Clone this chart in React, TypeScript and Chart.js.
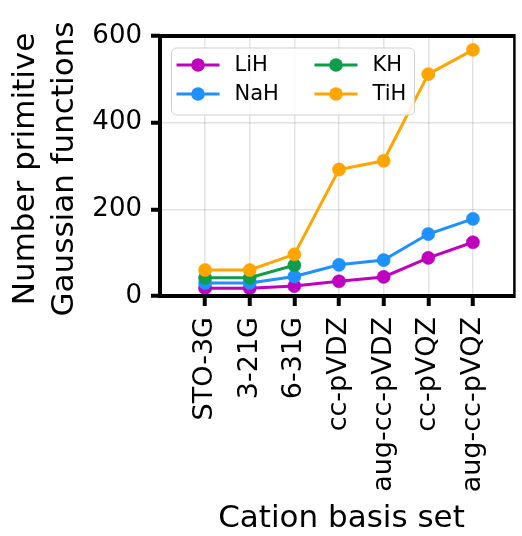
import { useEffect, useRef } from 'react';
import { Chart, registerables } from 'chart.js';

Chart.register(...registerables);

// Basis sets used on the cation (x axis, in order)
const categories = ['STO-3G', '3-21G', '6-31G', 'cc-pVDZ', 'aug-cc-pVDZ', 'cc-pVQZ', 'aug-cc-pVQZ'];

// Number of primitive Gaussian functions per molecule
const lihValues = [18, 18, 23, 34, 44, 88, 124];
const nahValues = [30, 30, 45, 72, 83, 143, 178];
const khValues = [42, 42, 71, null, null, null, null];
const tihValues = [60, 60, 96, 292, 312, 512, 568];

const yTicks = [0, 200, 400, 600];

const FONT = '"DejaVu Sans", sans-serif';

const series = [
  { label: 'LiH', values: lihValues, color: '#bf00bf' },
  { label: 'NaH', values: nahValues, color: '#1e90ff' },
  { label: 'KH', values: khValues, color: '#0f9d4c' },
  { label: 'TiH', values: tihValues, color: '#ffa500' },
];

// Frame, legend and axis titles drawn on top of the plot
const decorations = {
  id: 'decorations',
  afterDatasetsDraw(chart: any) {
    const { ctx, chartArea: a } = chart;
    ctx.save();
    ctx.strokeStyle = '#000';
    ctx.lineWidth = 4;
    ctx.beginPath();
    ctx.moveTo(a.right - 0.5, a.top);
    ctx.lineTo(a.left, a.top);
    ctx.lineTo(a.left, a.bottom);
    ctx.lineTo(a.right - 0.5, a.bottom);
    ctx.stroke();
    ctx.lineWidth = 2.5;
    ctx.beginPath();
    ctx.moveTo(a.right - 0.5, a.top - 2);
    ctx.lineTo(a.right - 0.5, a.bottom + 2);
    ctx.stroke();
    ctx.restore();
  },
  afterDraw(chart: any) {
    const { ctx, chartArea: a } = chart;
    ctx.save();

    // legend box
    const bx = a.left + 11.5, by = a.top + 12, bw = 243, bh = 67, r = 5;
    ctx.beginPath();
    ctx.moveTo(bx + r, by);
    ctx.arcTo(bx + bw, by, bx + bw, by + bh, r);
    ctx.arcTo(bx + bw, by + bh, bx, by + bh, r);
    ctx.arcTo(bx, by + bh, bx, by, r);
    ctx.arcTo(bx, by, bx + bw, by, r);
    ctx.closePath();
    ctx.fillStyle = 'rgba(255,255,255,0.85)';
    ctx.fill();
    ctx.strokeStyle = '#cfcfcf';
    ctx.lineWidth = 1;
    ctx.stroke();

    const entries = [
      { ds: 0, col: 0, row: 0 },
      { ds: 1, col: 0, row: 1 },
      { ds: 2, col: 1, row: 0 },
      { ds: 3, col: 1, row: 1 },
    ];
    const colX = [bx + 5, bx + 143];
    const rowY = [by + 17, by + 46];
    ctx.font = `21px ${FONT}`;
    ctx.textBaseline = 'middle';
    ctx.textAlign = 'left';
    for (const e of entries) {
      const ds = chart.data.datasets[e.ds];
      const x0 = colX[e.col];
      const y0 = rowY[e.row];
      ctx.strokeStyle = ds.borderColor;
      ctx.lineWidth = 3;
      ctx.beginPath();
      ctx.moveTo(x0, y0);
      ctx.lineTo(x0 + 43, y0);
      ctx.stroke();
      ctx.fillStyle = ds.borderColor;
      ctx.beginPath();
      ctx.arc(x0 + 21.5, y0, 6.8, 0, Math.PI * 2);
      ctx.fill();
      ctx.fillStyle = '#000';
      ctx.fillText(ds.label, x0 + 58, y0 + 1);
    }

    // axis titles
    ctx.fillStyle = '#000';
    ctx.font = `31px ${FONT}`;
    ctx.textAlign = 'center';
    ctx.textBaseline = 'alphabetic';
    ctx.fillText('Cation basis set', 341.5, 527);

    const cy = (a.top + a.bottom) / 2 + 3;
    ctx.save();
    ctx.translate(34, cy);
    ctx.rotate(-Math.PI / 2);
    ctx.fillText('Number primitive', 0, 0);
    ctx.restore();
    ctx.save();
    ctx.translate(73, cy);
    ctx.rotate(-Math.PI / 2);
    ctx.fillText('Gaussian functions', 0, 0);
    ctx.restore();

    ctx.restore();
  },
};

export default function App() {
  const ref = useRef<HTMLCanvasElement>(null);

  useEffect(() => {
    const canvas = ref.current;
    if (!canvas) return;
    const chart = new Chart(canvas, {
      type: 'line',
      data: {
        datasets: series.map((s, i) => ({
          label: s.label,
          data: s.values.map((v, j) => ({ x: j, y: v })),
          borderColor: s.color,
          backgroundColor: s.color,
          pointBackgroundColor: s.color,
          pointBorderColor: s.color,
          borderWidth: 3,
          pointRadius: 6.6,
          pointBorderWidth: 0.5,
          spanGaps: false,
          order: series.length - i,
        })),
      },
      options: {
        animation: false,
        responsive: false,
        devicePixelRatio: 1,
        layout: { padding: { top: 36, right: 2, left: 0, bottom: 0 } },
        plugins: {
          legend: { display: false },
          tooltip: { enabled: false },
        },
        scales: {
          x: {
            type: 'linear',
            min: -1.01,
            max: 6.94,
            afterBuildTicks: (scale: any) => {
              scale.ticks = categories.map((_, i) => ({ value: i }));
            },
            afterFit: (scale: any) => {
              scale.height = 240;
            },
            ticks: {
              autoSkip: false,
              maxRotation: 90,
              minRotation: 90,
              padding: 11,
              color: '#000',
              font: { family: FONT, size: 27 },
              callback: (v: any) => categories[v as number],
            },
            grid: {
              color: 'rgba(0,0,0,0.11)',
              lineWidth: 1.5,
              tickColor: '#000',
              tickWidth: 4,
              tickLength: 10,
            },
            border: { display: false },
          },
          y: {
            min: 0,
            max: 600,
            afterBuildTicks: (scale: any) => {
              scale.ticks = yTicks.map((v) => ({ value: v }));
            },
            afterFit: (scale: any) => {
              scale.width = 160;
            },
            ticks: {
              padding: 9,
              color: '#000',
              font: { family: FONT, size: 26 },
            },
            grid: {
              color: 'rgba(0,0,0,0.11)',
              lineWidth: 1.5,
              tickColor: '#000',
              tickWidth: 4,
              tickLength: 9,
            },
            border: { display: false },
          },
        },
      },
      plugins: [decorations],
    });
    return () => chart.destroy();
  }, []);

  return (
    <div style={{ position: 'fixed', left: 0, top: 0, width: 522, height: 536, background: '#fff' }}>
      <canvas ref={ref} width={522} height={536} style={{ width: 522, height: 536, display: 'block' }} />
    </div>
  );
}
